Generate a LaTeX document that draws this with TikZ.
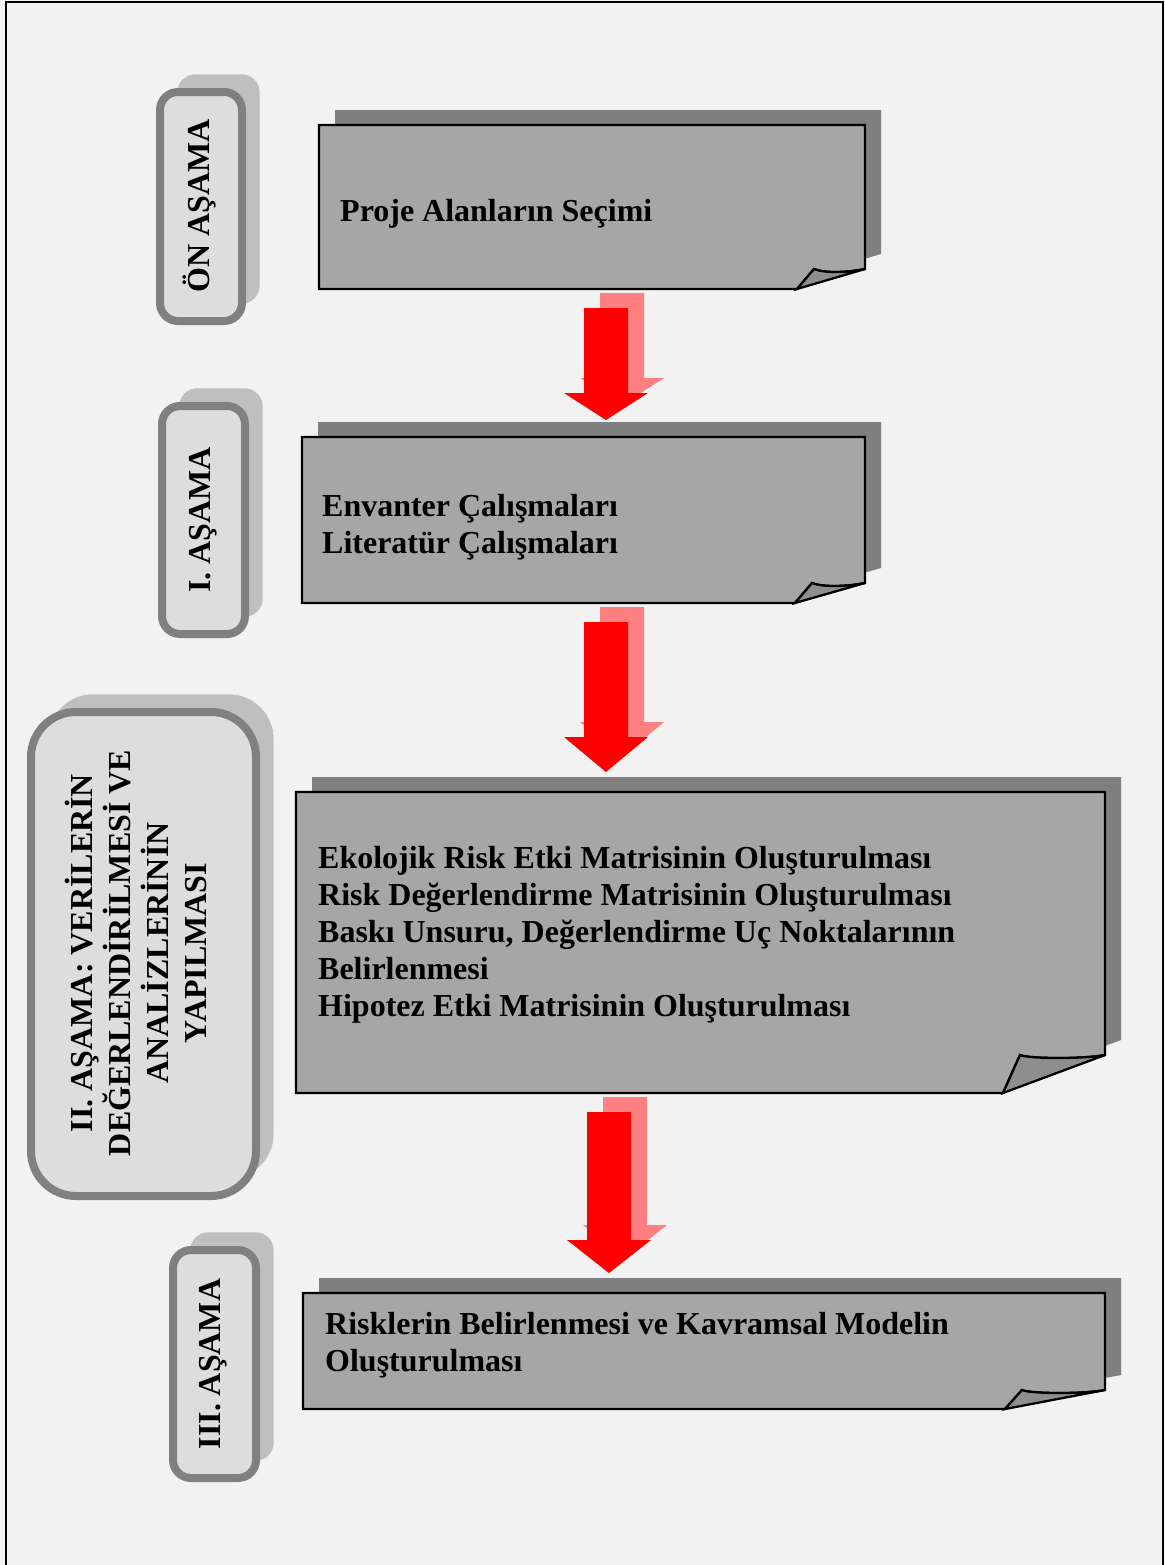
\documentclass[tikz,border=0pt]{standalone}
\usepackage{fontspec}
\setmainfont{Liberation Serif}
\usepackage{xcolor}

\definecolor{pagebg}{HTML}{F2F2F2}
\definecolor{paperfill}{HTML}{A6A6A6}
\definecolor{papershade}{HTML}{7F7F7F}
\definecolor{foldfill}{HTML}{8E8E8E}
\definecolor{stagefill}{HTML}{DDDDDD}
\definecolor{stageline}{HTML}{808080}
\definecolor{stageshade}{HTML}{BFBFBF}
\definecolor{arrowshade}{HTML}{FF8080}

\tikzset{
  paper/.style={fill=paperfill, draw=black, line width=1.3pt, line join=miter},
  fold/.style={fill=foldfill, draw=black, line width=1.3pt},
  papershadow/.style={fill=papershade},
  stage/.style={fill=stagefill, draw=stageline, line width=1.6mm},
  stageshadow/.style={fill=stageshade, draw=white!85!stageshade, line width=0.3pt},
  stagetext/.style={rotate=90, align=center, font=\fontsize{18.2}{21.5}\selectfont\bfseries},
  papertext/.style={anchor=west, align=left, font=\fontsize{18.2}{21}\selectfont\bfseries}
}

% x1 y1 x2 y2 (fold start on bottom) (fold end on right)
\newcommand{\paperbox}[6]{%
  \fill[papershadow] (#1+16,#2-15) -- (#3+16,#2-15) -- (#3+16,#6-15) -- (#5+16,#4-15) -- (#1+16,#4-15) -- cycle;
  \filldraw[paper] (#1,#2) -- (#3,#2) -- (#3,#6) .. controls (#3-20,#6+4) and (#5+26,#6+4) .. (#5+17,#6) -- (#5,#4) -- (#1,#4) -- cycle;
  \filldraw[fold] (#5,#4) -- (#5+17,#6) .. controls (#5+26,#6+4) and (#3-20,#6+4) .. (#3,#6) -- cycle;
}

% x1 y1 x2 y2 radius
\newcommand{\stagebox}[5]{%
  \filldraw[stageshadow, rounded corners=#5] (#1+17,#2-18) rectangle (#3+18,#4-17);
  \filldraw[stage, rounded corners=#5] (#1,#2) rectangle (#3,#4);
}

% shaft left, shaft top, head top, tip
\newcommand{\redarrow}[4]{%
  \fill[arrowshade] (#1+16,#2-15) -- (#1+60,#2-15) -- (#1+60,#3-15) -- (#1+80,#3-15) -- (#1+38,#4-15) -- (#1-4,#3-15) -- (#1+16,#3-15) -- cycle;
  \fill[red] (#1,#2) -- (#1+44,#2) -- (#1+44,#3) -- (#1+64,#3) -- (#1+22,#4) -- (#1-20,#3) -- (#1,#3) -- cycle;
}

\begin{document}
\begin{tikzpicture}[x=0.2mm, y=-0.2mm]
  \useasboundingbox (0,0) rectangle (1165,1565);
  \fill[pagebg] (0,0) rectangle (1165,1565);
  \draw[line width=0.45mm] (6,1565) -- (6,2) -- (1163,2) -- (1163,1565);

  % stages
  \stagebox{160}{92}{242}{321}{3.6mm}
  \stagebox{162}{406}{245}{634}{3.6mm}
  \stagebox{31}{712}{256}{1196}{9mm}
  \stagebox{173}{1250}{256}{1478}{3.6mm}

  \node[stagetext] (onasama) at (199,206) {ÖN AŞAMA};
  \node[stagetext] (asama1) at (203,520) {I. AŞAMA};
  \node[stagetext] (asama2) at (136,953) {II. AŞAMA: VERİLERİN\\DEĞERLENDİRİLMESİ VE\\ANALİZLERİNİN\\YAPILMASI};
  \node[stagetext] (asama3) at (213,1364) {III. AŞAMA};

  % papers
  \paperbox{319}{125}{865}{289}{797}{269}
  \paperbox{302}{437}{865}{603}{795}{583}
  \paperbox{296}{792}{1105}{1093}{1003}{1055}
  \paperbox{303}{1293}{1105}{1409}{1005}{1390}

  \node[papertext] (secim) at (334,214) {Proje Alanların Seçimi};
  \node[papertext] (envanter) at (316,527) {Envanter Çalışmaları\\Literatür Çalışmaları};
  \node[papertext] (matris) at (312,935) {Ekolojik Risk Etki Matrisinin Oluşturulması\\Risk Değerlendirme Matrisinin Oluşturulması\\Baskı Unsuru, Değerlendirme Uç Noktalarının\\Belirlenmesi\\Hipotez Etki Matrisinin Oluşturulması};
  \node[papertext] (model) at (319,1345) {Risklerin Belirlenmesi ve Kavramsal Modelin\\Oluşturulması};

  % arrows
  \redarrow{584}{308}{393}{420}
  \redarrow{584}{622}{737}{772}
  \redarrow{587}{1112}{1240}{1273}
\end{tikzpicture}
\end{document}
